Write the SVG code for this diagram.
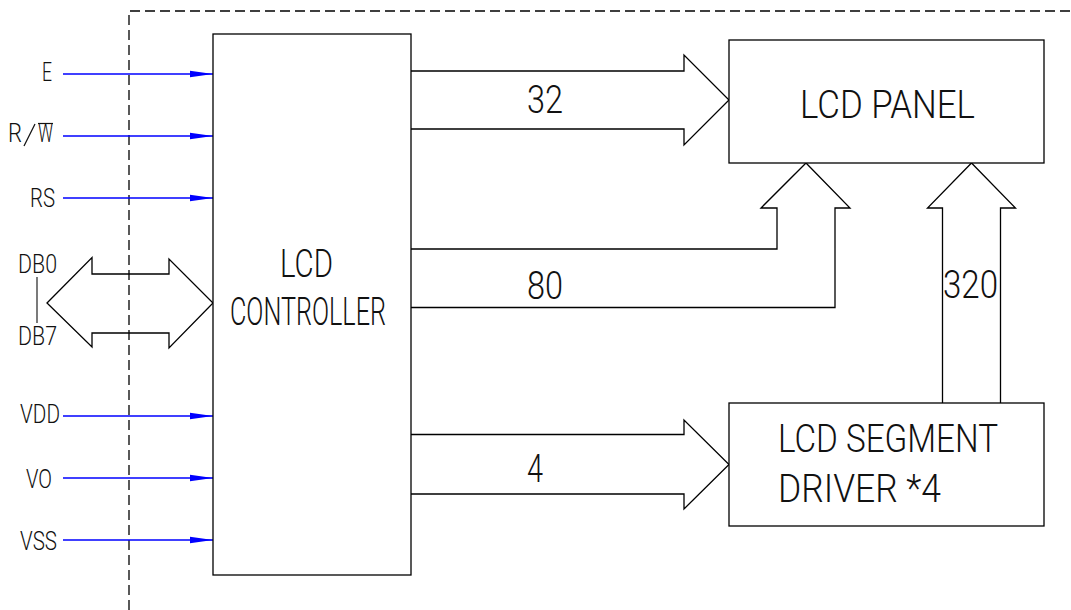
<svg xmlns="http://www.w3.org/2000/svg" width="1071" height="610" viewBox="0 0 1071 610">
<defs>
<style>
.box{fill:#fff;stroke:#000;stroke-width:1.3}
.bus{fill:none;stroke:#000;stroke-width:1.3;stroke-linejoin:miter}
.sig{stroke:#0000ff;stroke-width:1.5;fill:none}
.dash{fill:none;stroke:#000;stroke-width:1.3;stroke-dasharray:10,5}
.t{font-family:Roboto,"Liberation Sans",Arial,sans-serif;font-weight:300;fill:#111}
.big{font-size:38px}
.sm{font-size:26px}
</style>
<marker id="ah" markerWidth="24" markerHeight="8" refX="23" refY="4" orient="auto" markerUnits="userSpaceOnUse">
<path d="M0,0.8 L23,4 L0,7.2 Z" fill="#0000ff"/>
</marker>
</defs>
<rect width="1071" height="610" fill="#fff"/>
<path class="dash" d="M129,610 L129,11 L1071,11"/>

<g id="connectors">
<line class="sig" x1="63" y1="74" x2="213" y2="74" marker-end="url(#ah)"/>
<line class="sig" x1="63" y1="136" x2="213" y2="136" marker-end="url(#ah)"/>
<line class="sig" x1="63" y1="198" x2="213" y2="198" marker-end="url(#ah)"/>
<line class="sig" x1="63" y1="416" x2="213" y2="416" marker-end="url(#ah)"/>
<line class="sig" x1="63" y1="478" x2="213" y2="478" marker-end="url(#ah)"/>
<line class="sig" x1="63" y1="540" x2="213" y2="540" marker-end="url(#ah)"/>
<path class="bus" d="M47,303 L92,257.5 L92,274 L169,274 L169,259 L213,303 L169,348 L169,333 L92,333 L92,347 Z"/>
<path class="bus" d="M411,71 L684,71 L684,55 L729,100 L684,145 L684,129 L411,129"/>
<path class="bus" d="M411,434.5 L684,434.5 L684,420 L729,464.5 L684,509 L684,494 L411,494"/>
<path class="bus" d="M411,249 L777,249 L777,208 L761,208 L806,163 L850,208 L835,208 L835,307.5 L411,307.5"/>
<path class="bus" d="M942.5,403 L942.5,208 L927.5,208 L971.5,163 L1015.5,208 L1000.5,208 L1000.5,403"/>
<line x1="37" y1="277" x2="37" y2="323" stroke="#333" stroke-width="1.3"/>
</g>

<g id="controller">
<rect class="box" x="213" y="34" width="198" height="541"/>
<text class="t big" x="280" y="277" textLength="53" lengthAdjust="spacingAndGlyphs">LCD</text>
<text class="t big" x="230" y="325" textLength="156" lengthAdjust="spacingAndGlyphs">CONTROLLER</text>
</g>

<g id="panel">
<rect class="box" x="729" y="40" width="315" height="123"/>
<text class="t big" x="800" y="117.5" textLength="175" lengthAdjust="spacingAndGlyphs">LCD PANEL</text>
</g>

<g id="segdriver">
<rect class="box" x="729" y="403" width="315" height="123"/>
<text class="t big" x="778" y="452" textLength="220" lengthAdjust="spacingAndGlyphs">LCD SEGMENT</text>
<text class="t big" x="778" y="502" textLength="163" lengthAdjust="spacingAndGlyphs">DRIVER *4</text>
</g>

<g id="labels">
<text class="t big" x="527" y="113" textLength="36" lengthAdjust="spacingAndGlyphs">32</text>
<text class="t big" x="527" y="299" textLength="36" lengthAdjust="spacingAndGlyphs">80</text>
<text class="t big" x="527" y="482" textLength="16" lengthAdjust="spacingAndGlyphs">4</text>
<text class="t big" x="943" y="298" textLength="55" lengthAdjust="spacingAndGlyphs">320</text>
</g>

<g id="pins">
<text class="t sm" x="42" y="81" textLength="10" lengthAdjust="spacingAndGlyphs">E</text>
<text class="t sm" x="8" y="142" textLength="14" lengthAdjust="spacingAndGlyphs">R</text>
<line x1="24" y1="146" x2="35" y2="124" stroke="#111" stroke-width="1.2"/>
<text class="t sm" x="38" y="142" textLength="15" lengthAdjust="spacingAndGlyphs">W</text>
<line x1="38" y1="123.5" x2="53" y2="123.5" stroke="#111" stroke-width="1.2"/>
<text class="t sm" x="30" y="207" textLength="25" lengthAdjust="spacingAndGlyphs">RS</text>
<text class="t sm" x="18" y="273" textLength="39" lengthAdjust="spacingAndGlyphs">DB0</text>
<text class="t sm" x="18" y="345" textLength="39" lengthAdjust="spacingAndGlyphs">DB7</text>
<text class="t sm" x="20" y="423" textLength="40" lengthAdjust="spacingAndGlyphs">VDD</text>
<text class="t sm" x="26" y="488" textLength="26" lengthAdjust="spacingAndGlyphs">VO</text>
<text class="t sm" x="20" y="550" textLength="37" lengthAdjust="spacingAndGlyphs">VSS</text>
</g>
</svg>
